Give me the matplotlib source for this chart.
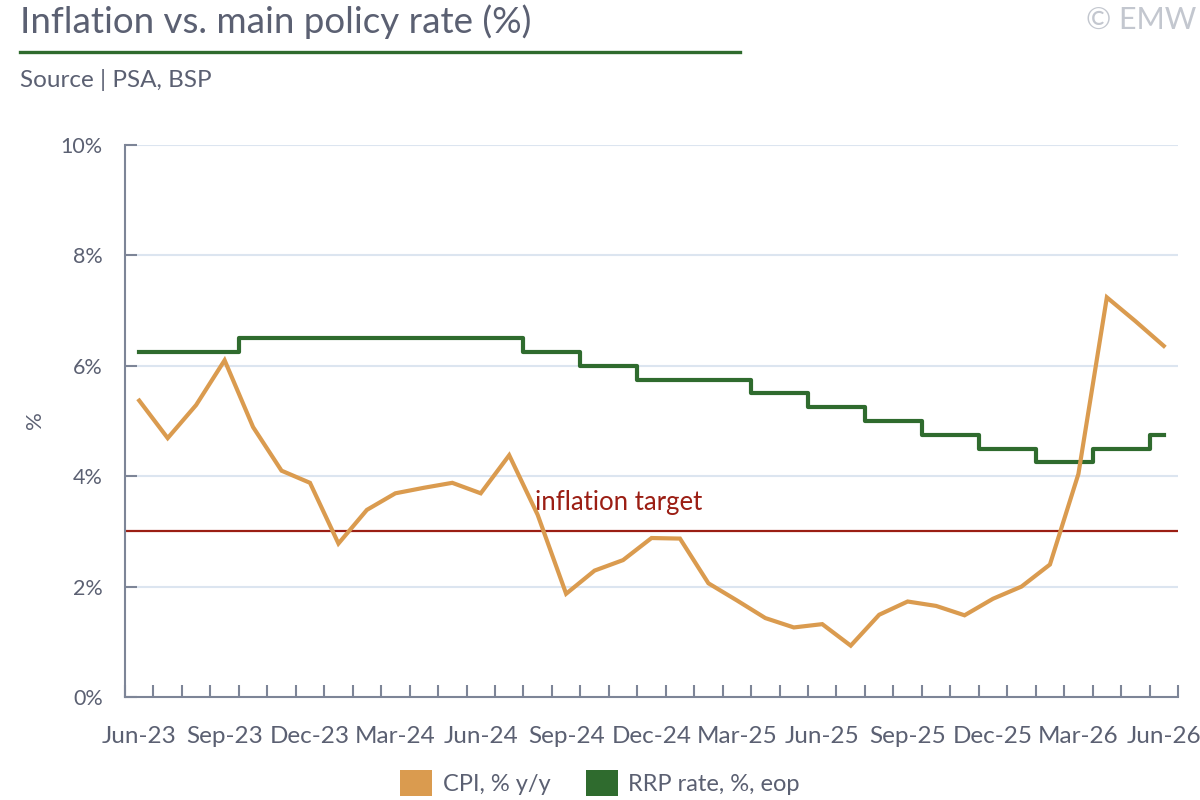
import matplotlib
matplotlib.use("Agg")
import matplotlib.pyplot as plt
from matplotlib.patches import Patch
from matplotlib.lines import Line2D

plt.rcParams['font.family'] = ['Lato', 'DejaVu Sans']

# datos
months = ['Jun-23', 'Jul-23', 'Aug-23', 'Sep-23', 'Oct-23', 'Nov-23', 'Dec-23',
          'Jan-24', 'Feb-24', 'Mar-24', 'Apr-24', 'May-24', 'Jun-24', 'Jul-24',
          'Aug-24', 'Sep-24', 'Oct-24', 'Nov-24', 'Dec-24', 'Jan-25', 'Feb-25',
          'Mar-25', 'Apr-25', 'May-25', 'Jun-25', 'Jul-25', 'Aug-25', 'Sep-25',
          'Oct-25', 'Nov-25', 'Dec-25', 'Jan-26', 'Feb-26', 'Mar-26', 'Apr-26',
          'May-26', 'Jun-26']
cpi = [5.37, 4.69, 5.29, 6.10, 4.89, 4.10, 3.88, 2.78, 3.39, 3.69, 3.79, 3.88,
       3.69, 4.38, 3.30, 1.87, 2.29, 2.48, 2.88, 2.87, 2.06, 1.75, 1.43, 1.26,
       1.32, 0.93, 1.49, 1.73, 1.65, 1.48, 1.78, 2.00, 2.40, 4.04, 7.24, 6.81,
       6.36]
rrp = [6.25, 6.25, 6.25, 6.25, 6.5, 6.5, 6.5, 6.5, 6.5, 6.5, 6.5, 6.5, 6.5, 6.5,
       6.25, 6.25, 6.0, 6.0, 5.75, 5.75, 5.75, 5.75, 5.5, 5.5, 5.25, 5.25, 5.0,
       5.0, 4.75, 4.75, 4.5, 4.5, 4.25, 4.25, 4.5, 4.5, 4.75]
target = 3.0
y_ticks = [0, 2, 4, 6, 8, 10]

COL = {
    'cpi': '#DA9B4F', 'rrp': '#2F6B2E', 'target': '#9B1E14',
    'text': '#5B6072', 'axis': '#7D8597', 'grid': '#DCE5F0', 'copy': '#C3C7CF'
}

W, H = 1200, 800
fig = plt.figure(figsize=(12, 8), dpi=100)
ax = fig.add_axes([125 / W, 1 - 697 / H, (1178 - 125) / W, (697 - 145) / H])

x = list(range(len(months)))

# gridlines (empiezan después de la marca)
for yv in y_ticks[1:]:
    ax.hlines(yv, -0.5 + 12 / 28.46, len(months) - 0.5, color=COL['grid'], lw=1.5, zorder=1)

ax.axhline(target, color=COL['target'], lw=1.6, zorder=2)
ax.text(13.9, 3.52, 'inflation target', color=COL['target'], fontsize=18.5,
        va='center', ha='left', zorder=3)

ax.plot(x, rrp, drawstyle='steps-mid', color=COL['rrp'], lw=3, zorder=4)
ax.plot(x, cpi, color=COL['cpi'], lw=3, zorder=5, solid_joinstyle='miter')

ax.set_xlim(-0.5, len(months) - 0.5)
ax.set_ylim(0, 10)

# ejes
for s in ['top', 'right']:
    ax.spines[s].set_visible(False)
for s in ['left', 'bottom']:
    ax.spines[s].set_color(COL['axis'])
    ax.spines[s].set_linewidth(1.5)

ax.set_yticks(y_ticks)
ax.set_yticklabels([f'{v}%' for v in y_ticks])
ax.tick_params(axis='y', direction='in', length=8.6, width=1.5, color=COL['axis'],
               labelcolor=COL['text'], labelsize=15.5, pad=16)

ax.set_xticks(x[::3])
ax.set_xticklabels(months[::3])
ax.set_xticks([i - 0.5 for i in range(len(months) + 1)], minor=True)
ax.tick_params(axis='x', which='major', length=0, labelcolor=COL['text'],
               labelsize=17.5, pad=21)
ax.tick_params(axis='x', which='minor', direction='in', length=9, width=1.5,
               color=COL['axis'])
for lbl in ax.get_xticklabels():
    lbl.set_clip_on(False)

fig.text(35 / W, 1 - 420 / H, '%', rotation=90, color=COL['text'], fontsize=16,
         ha='center', va='center')

# título y fuente
fig.text(20 / W, 1 - 22 / H, 'Inflation vs. main policy rate (%)', color=COL['text'],
         fontsize=26.5, ha='left', va='center')
fig.add_artist(Line2D([20 / W, 740 / W], [1 - 51.5 / H, 1 - 51.5 / H],
                      color=COL['rrp'], lw=2.4))
fig.text(20 / W, 1 - 80 / H, 'Source | PSA, BSP', color=COL['text'], fontsize=17.5,
         ha='left', va='center')
fig.text(1196 / W, 1 - 20 / H, '© EMW', color=COL['copy'], fontsize=22,
         ha='right', va='center')

# leyenda
handles = [Patch(facecolor=COL['cpi'], edgecolor='none', label='CPI, % y/y'),
           Patch(facecolor=COL['rrp'], edgecolor='none', label='RRP rate, %, eop')]
fig.legend(handles=handles, loc='center', bbox_to_anchor=(0.5, 1 - 783 / H), ncol=2,
           frameon=False, fontsize=17, handlelength=1.35, handleheight=1.35,
           handletextpad=0.45, columnspacing=1.5, labelcolor=COL['text'])

fig.savefig('out.png', dpi=100)
